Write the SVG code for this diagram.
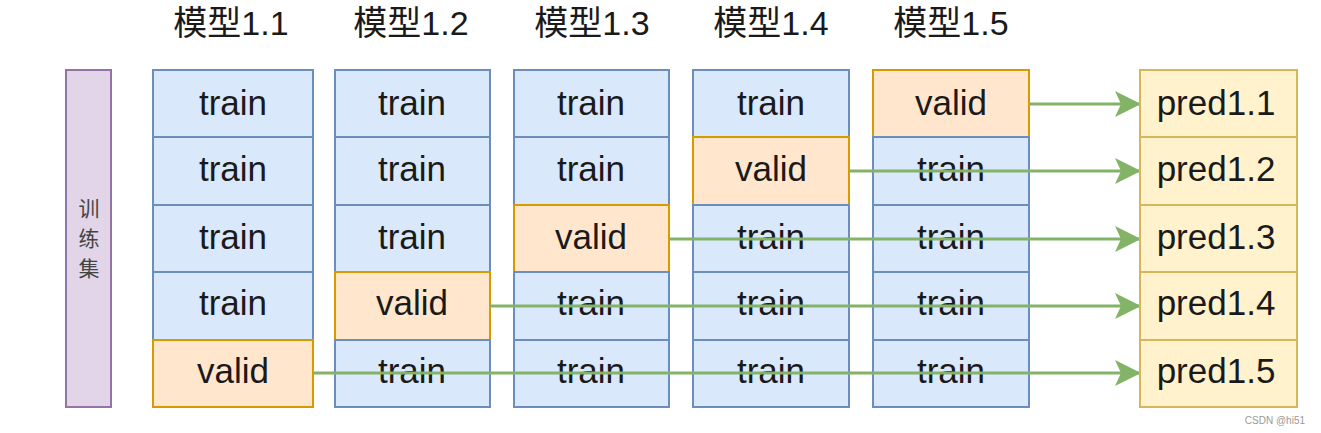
<svg xmlns="http://www.w3.org/2000/svg" width="1321" height="433" viewBox="0 0 1321 433">
<style>
.t{fill:#dae8fc;stroke:#6c8ebf;stroke-width:2}
.v{fill:#ffe6cc;stroke:#d79b00;stroke-width:2}
.p{fill:#fff2cc;stroke:#d6b656;stroke-width:2}
.lbl{font-family:"Liberation Sans",Arial,sans-serif;font-size:35px;fill:#1a1a1a;text-anchor:middle;dominant-baseline:central}
.hd{font-family:"Liberation Sans","Noto Sans CJK SC",sans-serif;font-size:34px;fill:#1a1a1a;text-anchor:middle}
.cn{font-family:"Noto Sans CJK SC",sans-serif;font-size:21px;fill:#444;text-anchor:middle}
.ed{stroke:#82b366;stroke-width:3;fill:none;marker-end:url(#ah)}
</style>
<defs>
<marker id="ah" markerWidth="26" markerHeight="26" refX="25" refY="13" orient="auto" markerUnits="userSpaceOnUse" viewBox="0 0 26 26">
<path d="M0,0 L26,13 L0,26 L6,13 Z" fill="#82b366"/>
</marker>
</defs>
<rect width="1321" height="433" fill="#ffffff"/>
<g id="headers">
<text class="hd" x="231" y="35">模型1.1</text>
<text class="hd" x="411" y="35">模型1.2</text>
<text class="hd" x="592" y="35">模型1.3</text>
<text class="hd" x="771" y="35">模型1.4</text>
<text class="hd" x="951" y="35">模型1.5</text>
</g>
<g id="trainset">
<rect x="66" y="70" width="45" height="337" fill="#e1d5e7" stroke="#9673a6" stroke-width="2"/>
<text class="cn" x="89" y="216">训</text>
<text class="cn" x="89" y="246">练</text>
<text class="cn" x="89" y="276">集</text>
</g>
<g id="model11">
<rect class="t" x="153" y="70" width="160" height="67"/><text class="lbl" x="233" y="102">train</text>
<rect class="t" x="153" y="137" width="160" height="68"/><text class="lbl" x="233" y="168">train</text>
<rect class="t" x="153" y="205" width="160" height="67"/><text class="lbl" x="233" y="236">train</text>
<rect class="t" x="153" y="272" width="160" height="68"/><text class="lbl" x="233" y="302">train</text>
<rect class="v" x="153" y="340" width="160" height="67"/><text class="lbl" x="233" y="370">valid</text>
</g>
<g id="model12">
<rect class="t" x="335" y="70" width="155" height="67"/><text class="lbl" x="412" y="102">train</text>
<rect class="t" x="335" y="137" width="155" height="68"/><text class="lbl" x="412" y="168">train</text>
<rect class="t" x="335" y="205" width="155" height="67"/><text class="lbl" x="412" y="236">train</text>
<rect class="v" x="335" y="272" width="155" height="68"/><text class="lbl" x="412" y="302">valid</text>
<rect class="t" x="335" y="340" width="155" height="67"/><text class="lbl" x="412" y="370">train</text>
</g>
<g id="model13">
<rect class="t" x="514" y="70" width="155" height="67"/><text class="lbl" x="591" y="102">train</text>
<rect class="t" x="514" y="137" width="155" height="68"/><text class="lbl" x="591" y="168">train</text>
<rect class="v" x="514" y="205" width="155" height="67"/><text class="lbl" x="591" y="236">valid</text>
<rect class="t" x="514" y="272" width="155" height="68"/><text class="lbl" x="591" y="302">train</text>
<rect class="t" x="514" y="340" width="155" height="67"/><text class="lbl" x="591" y="370">train</text>
</g>
<g id="model14">
<rect class="t" x="693" y="70" width="156" height="67"/><text class="lbl" x="771" y="102">train</text>
<rect class="v" x="693" y="137" width="156" height="68"/><text class="lbl" x="771" y="168">valid</text>
<rect class="t" x="693" y="205" width="156" height="67"/><text class="lbl" x="771" y="236">train</text>
<rect class="t" x="693" y="272" width="156" height="68"/><text class="lbl" x="771" y="302">train</text>
<rect class="t" x="693" y="340" width="156" height="67"/><text class="lbl" x="771" y="370">train</text>
</g>
<g id="model15">
<rect class="v" x="873" y="70" width="156" height="67"/><text class="lbl" x="951" y="102">valid</text>
<rect class="t" x="873" y="137" width="156" height="68"/><text class="lbl" x="951" y="168">train</text>
<rect class="t" x="873" y="205" width="156" height="67"/><text class="lbl" x="951" y="236">train</text>
<rect class="t" x="873" y="272" width="156" height="68"/><text class="lbl" x="951" y="302">train</text>
<rect class="t" x="873" y="340" width="156" height="67"/><text class="lbl" x="951" y="370">train</text>
</g>
<g id="connectors">
<line class="ed" x1="1029" y1="104" x2="1140" y2="104"/>
<line class="ed" x1="849" y1="171" x2="1140" y2="171"/>
<line class="ed" x1="669" y1="239" x2="1140" y2="239"/>
<line class="ed" x1="490" y1="306" x2="1140" y2="306"/>
<line class="ed" x1="313" y1="373" x2="1140" y2="373"/>
</g>
<g id="preds">
<rect class="p" x="1140" y="70" width="157" height="67"/><text class="lbl" x="1216" y="102">pred1.1</text>
<rect class="p" x="1140" y="137" width="157" height="68"/><text class="lbl" x="1216" y="168">pred1.2</text>
<rect class="p" x="1140" y="205" width="157" height="67"/><text class="lbl" x="1216" y="236">pred1.3</text>
<rect class="p" x="1140" y="272" width="157" height="68"/><text class="lbl" x="1216" y="302">pred1.4</text>
<rect class="p" x="1140" y="340" width="157" height="67"/><text class="lbl" x="1216" y="370">pred1.5</text>
</g>
<text x="1305" y="424" font-family="'Liberation Sans',sans-serif" font-size="10" fill="#999" text-anchor="end">CSDN @hi51</text>
</svg>
